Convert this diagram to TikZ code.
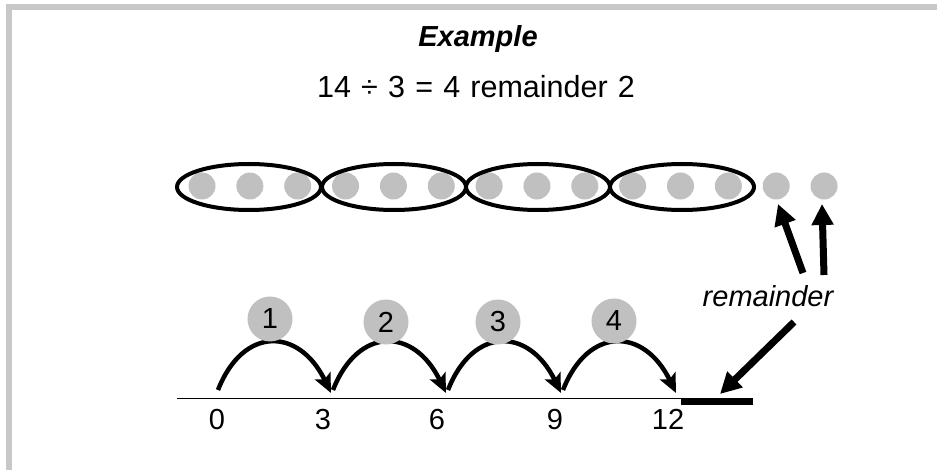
\documentclass[tikz,border=0pt]{standalone}
\usepackage{fontspec}
\setmainfont{Liberation Sans}
\usetikzlibrary{arrows.meta}
\definecolor{framegray}{RGB}{200,200,200}
\definecolor{dotgray}{RGB}{192,192,192}
\newcommand{\bigsz}{\fontsize{29}{33}\selectfont}
\newcommand{\eqsz}{\fontsize{30.5}{34}\selectfont}
\newcommand{\wsp}{\hspace{10.2pt}}
\tikzset{
  txt/.style={font=\bigsz, inner sep=0pt, anchor=base},
  dot/.style={circle, fill=dotgray, minimum size=27pt, inner sep=0pt},
  grp/.style={draw=black, line width=4pt},
  numc/.style={circle, fill=dotgray, minimum size=45pt, inner sep=0pt, font=\bigsz},
  jump/.style={line width=4.5pt, -{Stealth[length=19pt,width=17pt,inset=4pt]}},
  bigarrow/.style={line width=7pt, -{Triangle[length=21pt,width=21pt]}},
}
\begin{document}
\begin{tikzpicture}[x=1pt,y=-1pt]
\useasboundingbox (0,0) rectangle (937,470);
\fill[white] (0,0) rectangle (937,470);
% frame
\fill[framegray] (6,4) rectangle (937,10);
\fill[framegray] (6,4) rectangle (12,470);
% texts
\node[txt, font=\bigsz\bfseries\itshape] (title) at (478,47) {Example};
\node[txt, font=\eqsz] (eq) at (476,98) {14\wsp÷\wsp3\wsp=\wsp4\wsp remainder\wsp2};
% dots
\foreach \i in {1,...,14}{
  \node[dot] (d\i) at ({202+47.85*(\i-1)},186) {};
}
% ellipses
\foreach \cx [count=\k] in {249,394,538,682}{
  \draw[grp] (\cx,187) ellipse [x radius=72, y radius=23];
}
% number line
\coordinate (nl0) at (177,398.5);
\coordinate (nl1) at (681,398.5);
\draw[line width=1.5pt] (nl0) -- (nl1);
\coordinate (rs0) at (681,401.5);
\coordinate (rs1) at (753,401.5);
\draw[line width=7pt] (rs0) -- (rs1);
% labels
\node[txt] (l0) at (217,429) {0};
\node[txt] (l3) at (323,429) {3};
\node[txt] (l6) at (437,429) {6};
\node[txt] (l9) at (555,429) {9};
\node[txt] (l12) at (668,429) {12};
% jumps
\foreach \i in {0,1,2,3}{
  \coordinate (s\i) at ({218+115*\i},390);
  \coordinate (t\i) at ({331+115*\i},393);
  \draw[jump] (s\i) .. controls ++(25,-64) and ++(-32,-66) .. (t\i);
}
% number circles
\node[numc] (c1) at (270,319) {1};
\node[numc] (c2) at (386,322) {2};
\node[numc] (c3) at (498,322) {3};
\node[numc] (c4) at (614,321) {4};
% remainder
\node[txt, font=\bigsz\itshape] (rem) at (768,307) {remainder};
\coordinate (a1s) at (803,273);
\coordinate (a1t) at (778,204);
\coordinate (a2s) at (824,275);
\coordinate (a2t) at (822,204);
\draw[bigarrow] (a1s) -- (a1t);
\draw[bigarrow] (a2s) -- (a2t);
\coordinate (a3s) at (794,322);
\coordinate (a3t) at (720,394);
\draw[bigarrow] (a3s) -- (a3t);
\end{tikzpicture}
\end{document}
